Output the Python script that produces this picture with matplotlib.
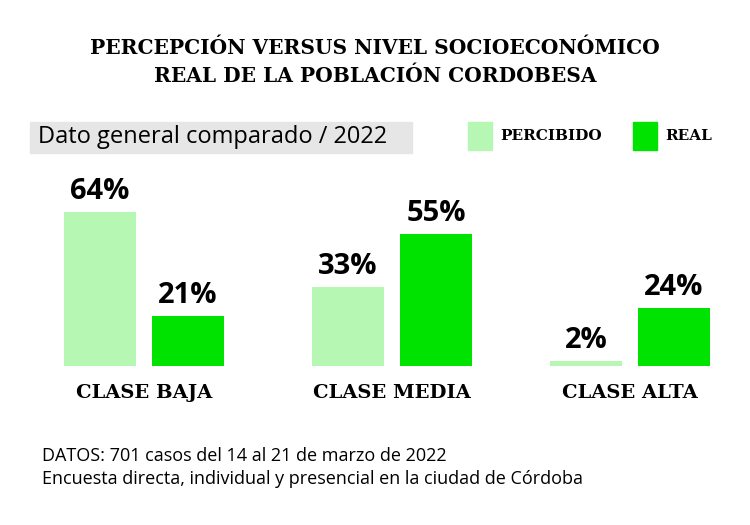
import matplotlib
matplotlib.use("Agg")
import matplotlib.pyplot as plt
from matplotlib.patches import Rectangle

categorias = ["CLASE BAJA", "CLASE MEDIA", "CLASE ALTA"]
percibido = [64, 33, 2]
real = [21, 55, 24]
series = ["PERCIBIDO", "REAL"]

c_perc = "#b5f7b3"
c_real = "#00e300"
slab = "DejaVu Serif"
sans = "Open Sans"

fig = plt.figure(figsize=(7.5, 5.25), dpi=100)
fig.patch.set_facecolor("white")

# axes in pixel-ish x units, percent y units; baseline at 366px from top
ax = fig.add_axes([0, 159 / 525, 1, 240 / 525])
ax.set_xlim(0, 750)
ax.set_ylim(0, 100)
ax.axis("off")

centros = [144, 392, 630]
w = 72
for i, cat in enumerate(categorias):
    xp = centros[i] - 44
    xr = centros[i] + 44
    ax.bar(xp, percibido[i], width=w, color=c_perc)
    ax.bar(xr, real[i], width=w, color=c_real)
    ax.text(xp, percibido[i] + 2.5, f"{percibido[i]}%", ha="center", va="bottom",
            fontsize=21, fontweight="bold", family=sans)
    ax.text(xr, real[i] + 2.5, f"{real[i]}%", ha="center", va="bottom",
            fontsize=21, fontweight="bold", family=sans)
    fig.text(centros[i] / 750, 1 - 393 / 525, cat, ha="center", va="center",
             fontsize=14, fontweight="bold", family=slab)

fig.text(0.5, 1 - 48 / 525, "PERCEPCIÓN VERSUS NIVEL SOCIOECONÓMICO", ha="center",
         va="center", fontsize=14.5, fontweight="bold", family=slab)
fig.text(0.5, 1 - 76 / 525, "REAL DE LA POBLACIÓN CORDOBESA", ha="center",
         va="center", fontsize=14.5, fontweight="bold", family=slab)

# subtitle box
fig.patches.append(Rectangle((30 / 750, 1 - 153 / 525), 382 / 750, 31 / 525,
                             transform=fig.transFigure, color="#e6e6e6"))
fig.text(38 / 750, 1 - 137 / 525, "Dato general comparado / 2022", ha="left",
         va="center", fontsize=17, family=sans)

# legend
for x0, col, lab in [(468, c_perc, series[0]), (633, c_real, series[1])]:
    fig.patches.append(Rectangle((x0 / 750, 1 - 150 / 525), 24 / 750, 28 / 525,
                                 transform=fig.transFigure, color=col))
    fig.text((x0 + 32) / 750, 1 - 136 / 525, lab, ha="left", va="center",
             fontsize=11, fontweight="bold", family=slab)

fig.text(42 / 750, 1 - 456 / 525, "DATOS: 701 casos del 14 al 21 de marzo de 2022",
         ha="left", va="center", fontsize=13, family=sans)
fig.text(42 / 750, 1 - 479 / 525,
         "Encuesta directa, individual y presencial en la ciudad de Córdoba",
         ha="left", va="center", fontsize=13, family=sans)

fig.savefig("out.png", dpi=100)
